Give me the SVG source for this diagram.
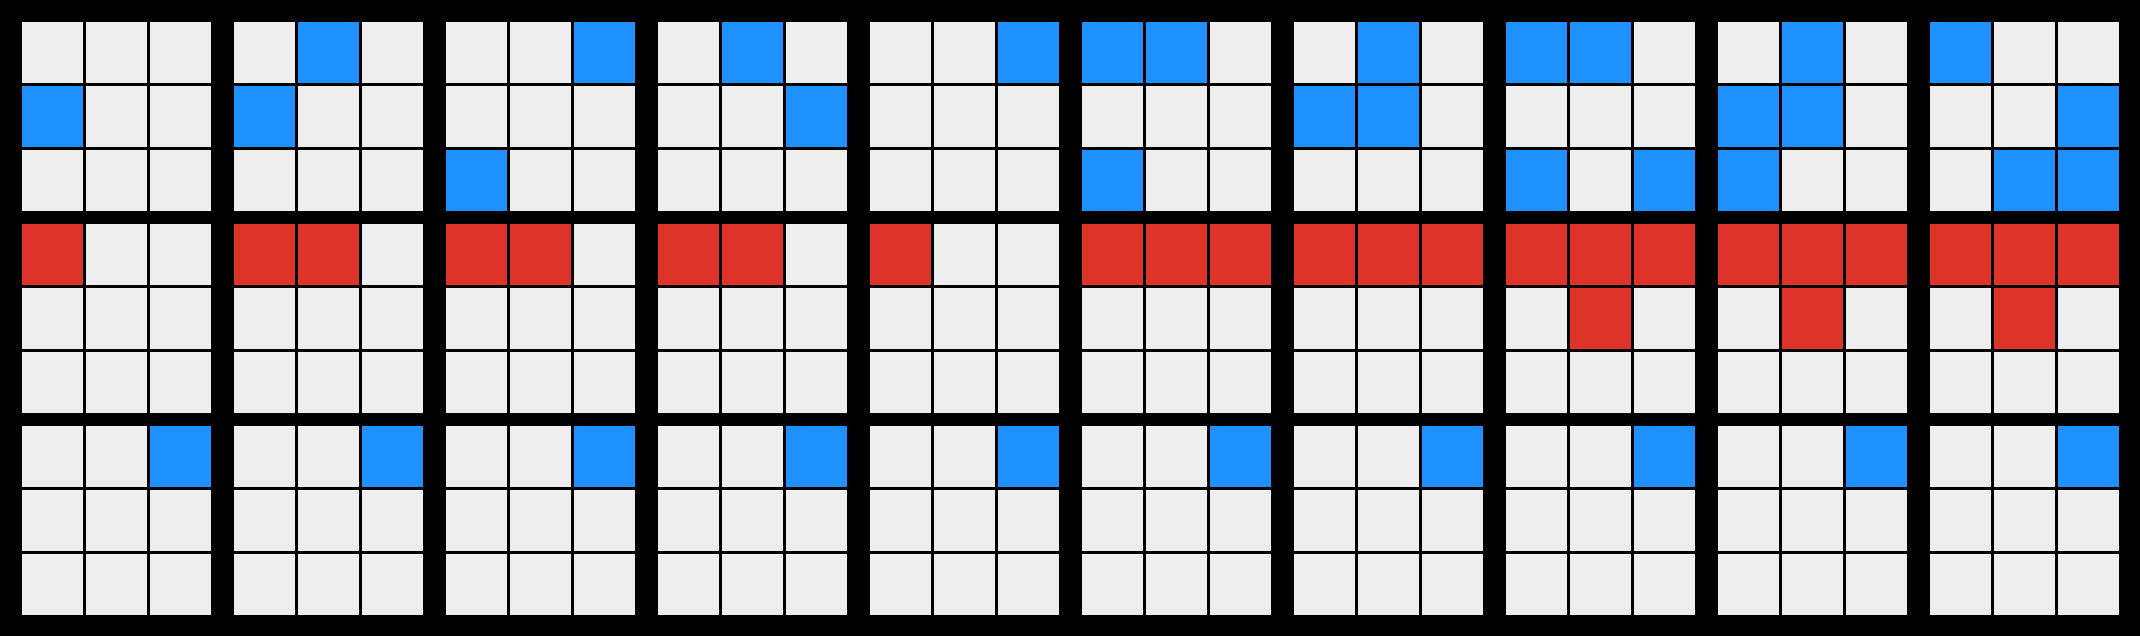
<svg xmlns="http://www.w3.org/2000/svg" width="2140" height="636" viewBox="0 0 2140 636">
<style>
.e{fill:#eeeeee}.b{fill:#1e90ff}.r{fill:#de3328}
</style>
<defs>
<g id="grid">
<rect class="e" x="0" y="0" width="61" height="61"/><rect class="e" x="64" y="0" width="61" height="61"/><rect class="e" x="128" y="0" width="61" height="61"/>
<rect class="e" x="0" y="64" width="61" height="61"/><rect class="e" x="64" y="64" width="61" height="61"/><rect class="e" x="128" y="64" width="61" height="61"/>
<rect class="e" x="0" y="128" width="61" height="61"/><rect class="e" x="64" y="128" width="61" height="61"/><rect class="e" x="128" y="128" width="61" height="61"/>
</g>
<rect id="B" class="b" width="61" height="61"/>
<rect id="R" class="r" width="61" height="61"/>
</defs>
<rect width="2140" height="636" fill="#000"/>
<!-- Row 1 -->
<g id="a1" transform="translate(22,22)"><use href="#grid"/><use href="#B" x="0" y="64"/></g>
<g id="a2" transform="translate(234,22)"><use href="#grid"/><use href="#B" x="64" y="0"/><use href="#B" x="0" y="64"/></g>
<g id="a3" transform="translate(446,22)"><use href="#grid"/><use href="#B" x="128" y="0"/><use href="#B" x="0" y="128"/></g>
<g id="a4" transform="translate(658,22)"><use href="#grid"/><use href="#B" x="64" y="0"/><use href="#B" x="128" y="64"/></g>
<g id="a5" transform="translate(870,22)"><use href="#grid"/><use href="#B" x="128" y="0"/></g>
<g id="a6" transform="translate(1082,22)"><use href="#grid"/><use href="#B" x="0" y="0"/><use href="#B" x="64" y="0"/><use href="#B" x="0" y="128"/></g>
<g id="a7" transform="translate(1294,22)"><use href="#grid"/><use href="#B" x="64" y="0"/><use href="#B" x="0" y="64"/><use href="#B" x="64" y="64"/></g>
<g id="a8" transform="translate(1506,22)"><use href="#grid"/><use href="#B" x="0" y="0"/><use href="#B" x="64" y="0"/><use href="#B" x="0" y="128"/><use href="#B" x="128" y="128"/></g>
<g id="a9" transform="translate(1718,22)"><use href="#grid"/><use href="#B" x="64" y="0"/><use href="#B" x="0" y="64"/><use href="#B" x="64" y="64"/><use href="#B" x="0" y="128"/></g>
<g id="a10" transform="translate(1930,22)"><use href="#grid"/><use href="#B" x="0" y="0"/><use href="#B" x="128" y="64"/><use href="#B" x="64" y="128"/><use href="#B" x="128" y="128"/></g>
<!-- Row 2 -->
<g id="b1" transform="translate(22,224)"><use href="#grid"/><use href="#R" x="0" y="0"/></g>
<g id="b2" transform="translate(234,224)"><use href="#grid"/><use href="#R" x="0" y="0"/><use href="#R" x="64" y="0"/></g>
<g id="b3" transform="translate(446,224)"><use href="#grid"/><use href="#R" x="0" y="0"/><use href="#R" x="64" y="0"/></g>
<g id="b4" transform="translate(658,224)"><use href="#grid"/><use href="#R" x="0" y="0"/><use href="#R" x="64" y="0"/></g>
<g id="b5" transform="translate(870,224)"><use href="#grid"/><use href="#R" x="0" y="0"/></g>
<g id="b6" transform="translate(1082,224)"><use href="#grid"/><use href="#R" x="0" y="0"/><use href="#R" x="64" y="0"/><use href="#R" x="128" y="0"/></g>
<g id="b7" transform="translate(1294,224)"><use href="#grid"/><use href="#R" x="0" y="0"/><use href="#R" x="64" y="0"/><use href="#R" x="128" y="0"/></g>
<g id="b8" transform="translate(1506,224)"><use href="#grid"/><use href="#R" x="0" y="0"/><use href="#R" x="64" y="0"/><use href="#R" x="128" y="0"/><use href="#R" x="64" y="64"/></g>
<g id="b9" transform="translate(1718,224)"><use href="#grid"/><use href="#R" x="0" y="0"/><use href="#R" x="64" y="0"/><use href="#R" x="128" y="0"/><use href="#R" x="64" y="64"/></g>
<g id="b10" transform="translate(1930,224)"><use href="#grid"/><use href="#R" x="0" y="0"/><use href="#R" x="64" y="0"/><use href="#R" x="128" y="0"/><use href="#R" x="64" y="64"/></g>
<!-- Row 3 -->
<g id="c1" transform="translate(22,426)"><use href="#grid"/><use href="#B" x="128" y="0"/></g>
<g id="c2" transform="translate(234,426)"><use href="#grid"/><use href="#B" x="128" y="0"/></g>
<g id="c3" transform="translate(446,426)"><use href="#grid"/><use href="#B" x="128" y="0"/></g>
<g id="c4" transform="translate(658,426)"><use href="#grid"/><use href="#B" x="128" y="0"/></g>
<g id="c5" transform="translate(870,426)"><use href="#grid"/><use href="#B" x="128" y="0"/></g>
<g id="c6" transform="translate(1082,426)"><use href="#grid"/><use href="#B" x="128" y="0"/></g>
<g id="c7" transform="translate(1294,426)"><use href="#grid"/><use href="#B" x="128" y="0"/></g>
<g id="c8" transform="translate(1506,426)"><use href="#grid"/><use href="#B" x="128" y="0"/></g>
<g id="c9" transform="translate(1718,426)"><use href="#grid"/><use href="#B" x="128" y="0"/></g>
<g id="c10" transform="translate(1930,426)"><use href="#grid"/><use href="#B" x="128" y="0"/></g>
<g id="connectors"/>
</svg>
